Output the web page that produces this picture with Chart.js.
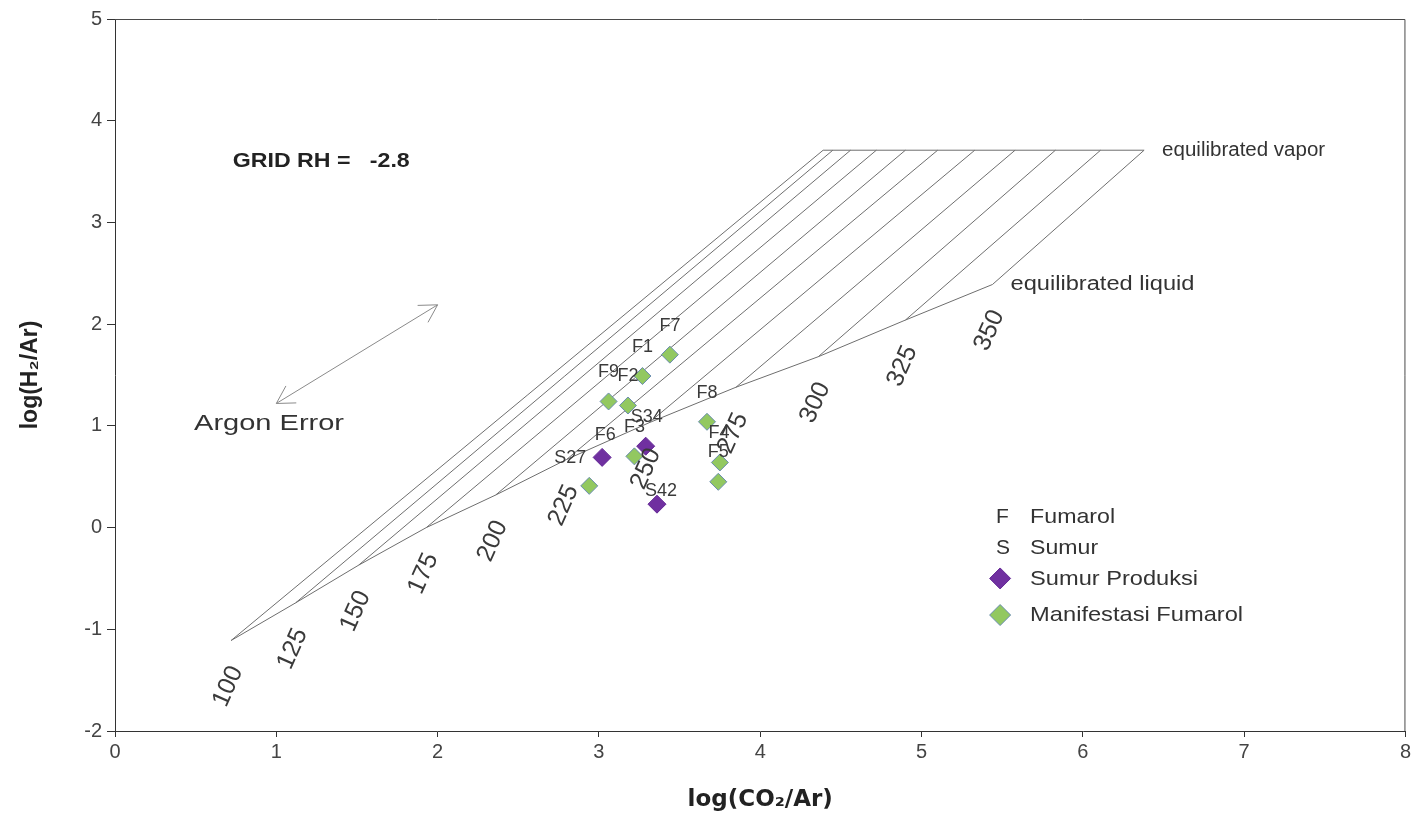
<!DOCTYPE html>
<html>
<head>
<meta charset="utf-8">
<script src="https://cdn.jsdelivr.net/npm/chart.js@4.4.1/dist/chart.umd.min.js"></script>
<style>
  body { margin: 0; background: #fff; }
  canvas { display: block; }
</style>
</head>
<body>
<canvas id="myChart" width="1414" height="821"></canvas>
<script>
// temperature grid (RH = -2.8)
const tempLabels = ['100', '125', '150', '175', '200', '225', '250', '275', '300', '325', '350']
const liquidX = [0.72, 1.12, 1.51, 1.93, 2.36, 2.80, 3.31, 3.85, 4.36, 4.90, 5.44]
const liquidY = [-1.11, -0.74, -0.37, 0.00, 0.32, 0.67, 1.03, 1.38, 1.68, 2.04, 2.39]
const vaporX = [4.39, 4.45, 4.56, 4.72, 4.90, 5.10, 5.33, 5.58, 5.83, 6.11, 6.38]
const vaporY = 3.71

// samples
const sumurNames = ['S34', 'S27', 'S42']
const sumurX = [3.29, 3.02, 3.36]
const sumurY = [0.80, 0.69, 0.23]

const fumarolNames = ['F7', 'F1', 'F9', 'F2', 'F8', 'F3', 'F4', 'F5', 'F6']
const fumarolX = [3.44, 3.27, 3.06, 3.18, 3.67, 3.22, 3.75, 3.74, 2.94]
const fumarolY = [1.70, 1.49, 1.24, 1.20, 1.04, 0.70, 0.64, 0.45, 0.41]

// argon error arrow ends
const argonX = [1.00, 2.00]
const argonY = [1.22, 2.19]

const xTicks = [0, 1, 2, 3, 4, 5, 6, 7, 8]
const yTicks = [-2, -1, 0, 1, 2, 3, 4, 5]

const FONT = "'Liberation Sans', Arial, sans-serif"
const GRID_COLOR = '#6e6e6e'
const PURPLE = 'rgb(112, 48, 160)'
const GREEN = 'rgb(146, 200, 96)'

// label offsets (px) for the sample names
const labelOffsets = {
    F7: [0, -29], F1: [0, -29], F9: [0, -29], F2: [0, -29], F8: [0, -29],
    F3: [0, -29], F4: [-1, -29], F5: [0, -30], F6: [16, -51],
    S34: [1, -29], S27: [-32, 1], S42: [4, -13]
}

const toPts = (xs, ys) => xs.map((x, i) => ({ x: x, y: Array.isArray(ys) ? ys[i] : ys }))

const lineSet = (pts) => ({
    data: pts,
    showLine: true,
    borderColor: GRID_COLOR,
    borderWidth: 1,
    pointRadius: 0,
    fill: false,
    order: 2
})

const datasets = []
// one line per temperature, liquid -> vapor
tempLabels.forEach((t, i) => {
    datasets.push(lineSet([{ x: liquidX[i], y: liquidY[i] }, { x: vaporX[i], y: vaporY }]))
})
datasets.push(lineSet(toPts(liquidX, liquidY)))
datasets.push(lineSet([{ x: vaporX[0], y: vaporY }, { x: vaporX[vaporX.length - 1], y: vaporY }]))
// argon arrow shaft
const argonSet = lineSet(toPts(argonX, argonY))
argonSet.borderColor = '#8a8a8a'
datasets.push(argonSet)

datasets.push({
    label: 'Manifestasi Fumarol',
    data: toPts(fumarolX, fumarolY),
    names: fumarolNames,
    pointStyle: 'rectRot',
    pointRadius: 8.5,
    backgroundColor: GREEN,
    borderColor: 'rgb(105, 140, 175)',
    borderWidth: 1,
    showLine: false,
    order: 0
})
datasets.push({
    label: 'Sumur Produksi',
    data: toPts(sumurX, sumurY),
    names: sumurNames,
    pointStyle: 'rectRot',
    pointRadius: 9,
    backgroundColor: PURPLE,
    borderColor: 'rgb(100, 40, 150)',
    borderWidth: 1,
    showLine: false,
    order: 0
})

// draw text squeezed/stretched to a given width
const fitText = (ctx, text, x, y, font, color, width, align) => {
    ctx.save()
    ctx.font = font
    ctx.fillStyle = color
    ctx.textBaseline = 'middle'
    ctx.textAlign = 'left'
    const w = ctx.measureText(text).width
    const sx = width ? width / w : 1
    let left = x
    if (align === 'center') left = x - (w * sx) / 2
    ctx.translate(left, y)
    ctx.scale(sx, 1)
    ctx.fillText(text, 0, 0)
    ctx.restore()
}

const arrowHead = (ctx, x1, y1, x2, y2) => {
    const a = Math.atan2(y2 - y1, x2 - x1)
    const len = 20
    ctx.beginPath()
    ctx.moveTo(x2 + len * Math.cos(a + Math.PI - 0.52), y2 + len * Math.sin(a + Math.PI - 0.52))
    ctx.lineTo(x2, y2)
    ctx.lineTo(x2 + len * Math.cos(a + Math.PI + 0.52), y2 + len * Math.sin(a + Math.PI + 0.52))
    ctx.stroke()
}

const decorations = {
    id: 'decorations',
    afterDatasetsDraw(chart) {
        const ctx = chart.ctx
        const xs = chart.scales.x
        const ys = chart.scales.y
        const area = chart.chartArea
        const px = v => xs.getPixelForValue(v)
        const py = v => ys.getPixelForValue(v)

        // top and right frame
        ctx.save()
        ctx.strokeStyle = '#4a4a4a'
        ctx.lineWidth = 1
        ctx.beginPath()
        ctx.moveTo(area.left, area.top + 0.5)
        ctx.lineTo(area.right - 0.5, area.top + 0.5)
        ctx.lineTo(area.right - 0.5, area.bottom)
        ctx.stroke()

        // argon arrow heads
        ctx.strokeStyle = '#8a8a8a'
        const ax1 = px(argonX[0]), ay1 = py(argonY[0]), ax2 = px(argonX[1]), ay2 = py(argonY[1])
        arrowHead(ctx, ax1, ay1, ax2, ay2)
        arrowHead(ctx, ax2, ay2, ax1, ay1)
        ctx.restore()

        // temperature labels under the liquid curve
        tempLabels.forEach((t, i) => {
            ctx.save()
            ctx.translate(px(liquidX[i]) - 3, py(liquidY[i]) + 46)
            ctx.rotate(-66 * Math.PI / 180)
            ctx.font = '25px ' + FONT
            ctx.fillStyle = '#3a3a3a'
            ctx.textAlign = 'center'
            ctx.textBaseline = 'middle'
            ctx.fillText(t, 0, 0)
            ctx.restore()
        })

        // sample names
        chart.data.datasets.forEach(ds => {
            if (!ds.names) return
            ds.data.forEach((p, i) => {
                const name = ds.names[i]
                const off = labelOffsets[name] || [0, -29]
                fitText(ctx, name, px(p.x) + off[0], py(p.y) + off[1], '18px ' + FONT, '#3a3a3a', 0, 'center')
            })
        })

        // annotations
        const vx = px(vaporX[vaporX.length - 1]), vy = py(vaporY)
        fitText(ctx, 'equilibrated vapor', vx + 18, vy, '20px ' + FONT, '#333', 163)
        const lx = px(liquidX[liquidX.length - 1]), ly = py(liquidY[liquidY.length - 1])
        fitText(ctx, 'equilibrated liquid', lx + 18, ly, '20px ' + FONT, '#333', 184)
        fitText(ctx, 'GRID RH =   -2.8', px(0.73), py(3.6), 'bold 20px ' + FONT, '#222', 177)
        fitText(ctx, 'Argon Error', px(0.49), py(1.02), '22px ' + FONT, '#333', 150)

        // legend
        const lgX = px(5.45)
        const rows = [py(0.1), py(-0.2), py(-0.51), py(-0.86)]
        fitText(ctx, 'F', lgX + 2, rows[0], '21px ' + FONT, '#333', 0)
        fitText(ctx, 'Fumarol', lgX + 36, rows[0], '21px ' + FONT, '#333', 85)
        fitText(ctx, 'S', lgX + 2, rows[1], '21px ' + FONT, '#333', 0)
        fitText(ctx, 'Sumur', lgX + 36, rows[1], '21px ' + FONT, '#333', 68)
        const diamond = (cx, cy, r, fill, stroke) => {
            ctx.save()
            ctx.beginPath()
            ctx.moveTo(cx - r, cy)
            ctx.lineTo(cx, cy - r)
            ctx.lineTo(cx + r, cy)
            ctx.lineTo(cx, cy + r)
            ctx.closePath()
            ctx.fillStyle = fill
            ctx.fill()
            ctx.strokeStyle = stroke
            ctx.lineWidth = 1
            ctx.stroke()
            ctx.restore()
        }
        diamond(lgX + 6, rows[2] - 1, 10.5, PURPLE, 'rgb(100, 40, 150)')
        fitText(ctx, 'Sumur Produksi', lgX + 36, rows[2], '21px ' + FONT, '#333', 168)
        diamond(lgX + 6, rows[3], 10.5, GREEN, 'rgb(105, 140, 175)')
        fitText(ctx, 'Manifestasi Fumarol', lgX + 36, rows[3], '21px ' + FONT, '#333', 213)
    }
}

const ctx = document.querySelector('#myChart').getContext('2d')

const myChart = new Chart(ctx, {
    type: 'scatter',
    data: { datasets: datasets },
    options: {
        responsive: false,
        animation: false,
        events: [],
        layout: { autoPadding: false, padding: { top: 19, right: 6, left: 0, bottom: 0 } },
        plugins: {
            legend: { display: false },
            tooltip: { enabled: false }
        },
        scales: {
            x: {
                type: 'linear',
                min: xTicks[0],
                max: xTicks[xTicks.length - 1],
                afterBuildTicks: s => { s.ticks = xTicks.map(v => ({ value: v })) },
                afterFit: s => { s.height = 90 },
                ticks: { font: { family: FONT, size: 20 }, color: '#444', padding: 3, maxRotation: 0 },
                grid: { display: true, drawOnChartArea: false, drawTicks: true, tickLength: 6, color: '#333' },
                border: { display: true, color: '#333', width: 1 },
                title: {
                    display: true,
                    text: 'log(CO₂/Ar)',
                    font: { family: "'DejaVu Sans', " + FONT, size: 23, weight: 'bold' },
                    color: '#222',
                    padding: { top: 0, bottom: 7 }
                }
            },
            y: {
                type: 'linear',
                min: yTicks[0],
                max: yTicks[yTicks.length - 1],
                afterBuildTicks: s => { s.ticks = yTicks.map(v => ({ value: v })) },
                afterFit: s => { s.width = 115 },
                ticks: { font: { family: FONT, size: 20 }, color: '#444', padding: 5 },
                grid: { display: true, drawOnChartArea: false, drawTicks: true, tickLength: 8, color: '#333' },
                border: { display: true, color: '#333', width: 1 },
                title: {
                    display: true,
                    text: 'log(H₂/Ar)',
                    font: { family: FONT, size: 23, weight: 'bold' },
                    color: '#222',
                    padding: { top: 17, bottom: 0 }
                }
            }
        }
    },
    plugins: [decorations]
})
</script>
</body>
</html>
